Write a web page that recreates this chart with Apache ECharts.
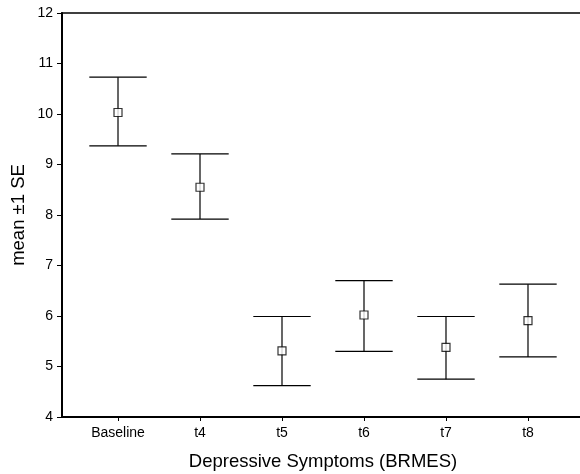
<!DOCTYPE html>
<html>
<head>
<meta charset="utf-8">
<script src="https://cdn.jsdelivr.net/npm/echarts@6/dist/echarts.min.js"></script>
<style>
    html, body { margin: 0; padding: 0; background: #fff; }
    #chart { width: 580px; height: 474px; }
</style>
</head>
<body>
<div id="chart"></div>
<script>
let categories = ["Baseline", "t4", "t5", "t6", "t7", "t8"];
let means = [10.03, 8.55, 5.31, 6.02, 5.38, 5.91];
let upper = [10.73, 9.21, 5.99, 6.70, 5.99, 6.63];
let lower = [9.37, 7.92, 4.62, 5.30, 4.75, 5.19];
let yTicks = [4, 5, 6, 7, 8, 9, 10, 11, 12];

function paintErrorBars(element) {
    let chart = echarts.init(document.getElementById(element));
    let font = "Liberation Sans, Arial, sans-serif";
    let positions = categories.map((c, i) => i);
    let option = {
        animation: false,
        grid: {
            left: 62,
            width: 522,
            top: 13,
            bottom: 57,
            outerBoundsMode: "none",
            show: true,
            borderColor: "#000",
            borderWidth: 1.5,
        },
        xAxis: {
            type: "value",
            min: -0.683,
            max: 5.683,
            name: "Depressive Symptoms (BRMES)",
            nameLocation: "middle",
            nameGap: 35,
            nameTextStyle: {
                fontFamily: font,
                fontSize: 18.5,
                color: "#000"
            },
            splitLine: { show: false },
            axisLine: {
                onZero: false,
                lineStyle: { color: "#000", width: 2 }
            },
            axisTick: {
                show: true,
                length: 4,
                customValues: positions,
                lineStyle: { color: "#000", width: 1 }
            },
            axisLabel: {
                customValues: positions,
                margin: 9,
                fontFamily: font,
                fontSize: 14,
                color: "#000",
                formatter: function (value) {
                    return categories[Math.round(value)];
                }
            }
        },
        yAxis: {
            type: "value",
            min: yTicks[0],
            max: yTicks[yTicks.length - 1],
            interval: 1,
            name: "mean \u00b11 SE",
            nameLocation: "middle",
            nameGap: 34,
            nameMoveOverlap: false,
            nameTextStyle: {
                fontFamily: font,
                fontSize: 18.5,
                color: "#000"
            },
            splitLine: { show: false },
            axisLine: {
                show: true,
                onZero: false,
                lineStyle: { color: "#000", width: 2 }
            },
            axisTick: {
                show: true,
                length: 5,
                lineStyle: { color: "#000", width: 1 }
            },
            axisLabel: {
                margin: 9,
                fontFamily: font,
                fontSize: 14,
                color: "#000"
            }
        },
        series: [
            {
                type: "custom",
                data: positions.map(i => [i, lower[i], upper[i]]),
                renderItem: function (params, api) {
                    let x = api.value(0);
                    let lo = api.coord([x, api.value(1)]);
                    let hi = api.coord([x, api.value(2)]);
                    let half = api.size([1, 0])[0] * 0.35;
                    let style = { stroke: "#000", lineWidth: 1.2 };
                    return {
                        type: "group",
                        children: [
                            { type: "line", shape: { x1: lo[0], y1: lo[1], x2: hi[0], y2: hi[1] }, style: style },
                            { type: "line", shape: { x1: hi[0] - half, y1: hi[1], x2: hi[0] + half, y2: hi[1] }, style: style },
                            { type: "line", shape: { x1: lo[0] - half, y1: lo[1], x2: lo[0] + half, y2: lo[1] }, style: style }
                        ]
                    };
                },
                z: 2
            },
            {
                type: "scatter",
                data: positions.map(i => [i, means[i]]),
                symbol: "rect",
                symbolSize: 8,
                itemStyle: {
                    color: "#fff",
                    borderColor: "#000",
                    borderWidth: 1.2
                },
                z: 3
            }
        ]
    };
    chart.setOption(option);
}

paintErrorBars("chart");
</script>
</body>
</html>
